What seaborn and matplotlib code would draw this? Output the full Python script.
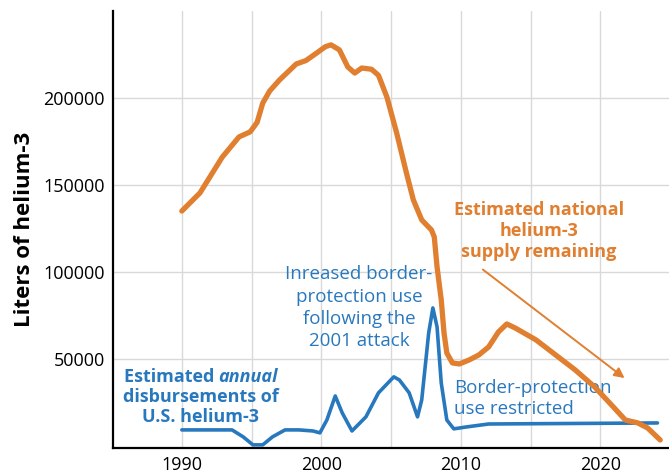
import numpy as np
import pandas as pd
import matplotlib
matplotlib.use("Agg")
import matplotlib.pyplot as plt
import seaborn as sns

# values
supply_years = [1990, 1991.3, 1992.9, 1994.1, 1994.9, 1995.4, 1995.8, 1996.3, 1997, 1998.2,
                1998.9, 1999.7, 2000.3, 2000.7, 2001.3, 2001.9, 2002.4, 2002.9, 2003.6, 2004.1,
                2004.7, 2005.4, 2006.1, 2006.6, 2007.2, 2007.9, 2008.1, 2008.3, 2008.6, 2008.8,
                2009.0, 2009.4, 2009.9, 2010.6, 2011.3, 2012.0, 2012.7, 2013.3, 2013.9, 2015.4,
                2016.8, 2018.2, 2019.6, 2020.8, 2021.8, 2022.7, 2023.4, 2024.3]
supply_liters = [135000, 145400, 166000, 177600, 180500, 186000, 197000, 204000, 210300, 219500,
                 221500, 226000, 229500, 230500, 227600, 217800, 214300, 217200, 216500, 213000,
                 200600, 180000, 157000, 141400, 129900, 124100, 120100, 102900, 83900, 64900,
                 53400, 47700, 47100, 49400, 52300, 56900, 65500, 70100, 67800, 60900,
                 52300, 43700, 33900, 23600, 14900, 13200, 10300, 3400]

disb_years = [1990, 1993.6, 1994.4, 1995.1, 1995.8, 1996.5, 1997.4, 1998.4, 1999.4, 1999.9,
              2000.4, 2001.0, 2001.5, 2002.2, 2003.2, 2004.1, 2005.2, 2005.6, 2006.3, 2006.9,
              2007.2, 2007.7, 2008.0, 2008.3, 2008.6, 2009.0, 2009.5, 2010.4, 2012.0, 2024.1]
disb_liters = [9200, 9200, 5200, 600, 600, 5200, 9200, 9200, 8600, 7500,
               14900, 28700, 19000, 8600, 16700, 30500, 39700, 37900, 30500, 16700,
               26400, 64900, 79300, 68400, 36200, 14900, 9800, 10900, 12600, 13200]

x_labels = [1990, 2000, 2010, 2020]
y_labels = [50000, 100000, 150000, 200000]

supply_note = ["Estimated national", "helium-3", "supply remaining"]
attack_note = ["Inreased border-", "protection use", "following the", "2001 attack"]
restrict_note = ["Border-protection", "use restricted"]
disb_note = ["disbursements of", "U.S. helium-3"]

orange = "#E07F30"
blue = "#2878BE"

sns.set_style("whitegrid")
plt.rcParams['font.family'] = ['Open Sans', 'DejaVu Sans']

fig, ax = plt.subplots(figsize=(6.69, 4.76), dpi=100)
fig.subplots_adjust(left=0.169, right=1.0, bottom=0.059, top=0.977)

supply = pd.DataFrame({"year": supply_years, "liters": supply_liters})
disb = pd.DataFrame({"year": disb_years, "liters": disb_liters})

sns.lineplot(data=disb, x="year", y="liters", color=blue, lw=2.6, ax=ax,
             solid_capstyle="round", solid_joinstyle="round", zorder=3)
sns.lineplot(data=supply, x="year", y="liters", color=orange, lw=3.8, ax=ax,
             solid_capstyle="round", solid_joinstyle="round", zorder=4)

ax.set_xlim(1985.07, 2024.93)
ax.set_ylim(-1150, 250000)
ax.set_xticks(x_labels)
ax.set_xticks([1995, 2005, 2015], minor=True)
ax.set_yticks(y_labels)
ax.set_xticklabels([str(v) for v in x_labels], fontsize=13)
ax.set_yticklabels([str(v) for v in y_labels], fontsize=13)
ax.tick_params(axis="both", which="both", length=0, pad=6, labelcolor="black")
ax.grid(True, which="both", color="#d9d9d9", lw=1)
ax.set_xlabel("")
ax.set_ylabel("Liters of helium-3", fontsize=16, fontweight="bold", labelpad=6, color="black")
for s in ["top", "right"]:
    ax.spines[s].set_visible(False)
for s in ["left", "bottom"]:
    ax.spines[s].set_color("black")
    ax.spines[s].set_linewidth(1.6)

# text lines placed one by one (liters step of ~12000 is one line of text)
for line, y in zip(supply_note, [135600, 123600, 111500]):
    ax.text(2015.6, y, line, color=orange, fontsize=13, fontweight="bold",
            ha="center", va="center", zorder=5)
ax.annotate("", xy=(2021.9, 38000), xytext=(2011.43, 102300),
            arrowprops=dict(arrowstyle="-|>", color=orange, lw=1.4, mutation_scale=15))

for line, y in zip(attack_note, [98900, 85600, 73000, 60300]):
    ax.text(2002.7, y, line, color=blue, fontsize=13.5, ha="center", va="center", zorder=5)
for line, y in zip(restrict_note, [33300, 21300]):
    ax.text(2009.5, y, line, color=blue, fontsize=13.5, ha="left", va="center", zorder=2)

for line, y in zip(disb_note, [28200, 16700]):
    ax.text(1991.36, y, line, color=blue, fontsize=13, fontweight="bold",
            ha="center", va="center", zorder=5)
t1 = ax.annotate("Estimated ", xy=(1991.36, 39700), xytext=(0, 0), textcoords="offset points",
                 color=blue, fontsize=13, fontweight="bold", ha="left", va="center")
t2 = ax.annotate("annual", xy=(1, 0.5), xycoords=t1, color=blue, fontsize=13,
                 fontweight="bold", fontstyle="italic", ha="left", va="center")
fig.canvas.draw()
r = fig.canvas.get_renderer()
total = t1.get_window_extent(r).width + t2.get_window_extent(r).width
t1.xyann = (-total / 2 * 72 / fig.dpi, 0)

fig.savefig("out.png", dpi=100)
